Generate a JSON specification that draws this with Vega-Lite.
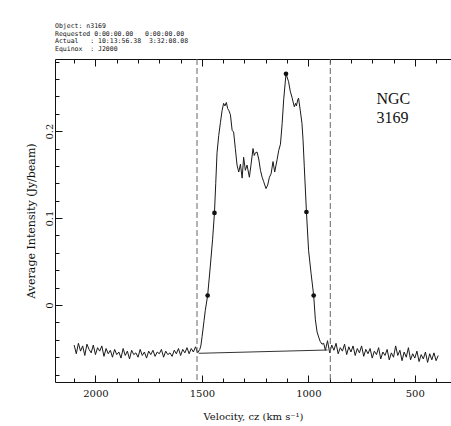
{
  "$schema": "https://vega.github.io/schema/vega-lite/v6.json",
  "width": 396,
  "height": 323,
  "autosize": {"type": "none"},
  "padding": {"left": 55, "top": 59, "right": 0, "bottom": 44},
  "background": "white",
  "title": {
    "text": ["Object: n3169", "Requested 0:00:00.00\u00a0\u00a0\u00a00:00:00.00", "Actual\u00a0\u00a0\u00a0: 10:13:56.38\u00a0\u00a03:32:08.08", "Equinox\u00a0\u00a0: J2000"],
    "anchor": "start",
    "frame": "group",
    "font": "DejaVu Sans Mono",
    "fontSize": 6.5,
    "fontWeight": "normal",
    "lineHeight": 7.7,
    "offset": 6,
    "color": "#111"
  },
  "datasets": {
    "spec": [
      {"v": 2100, "I": -0.046}, {"v": 2090, "I": -0.056}, {"v": 2080, "I": -0.044}, {"v": 2070, "I": -0.053},
      {"v": 2060, "I": -0.047}, {"v": 2050, "I": -0.058}, {"v": 2040, "I": -0.045}, {"v": 2030, "I": -0.051},
      {"v": 2020, "I": -0.055}, {"v": 2010, "I": -0.046}, {"v": 2000, "I": -0.057}, {"v": 1990, "I": -0.049},
      {"v": 1980, "I": -0.053}, {"v": 1970, "I": -0.047}, {"v": 1960, "I": -0.059}, {"v": 1950, "I": -0.050},
      {"v": 1940, "I": -0.056}, {"v": 1930, "I": -0.052}, {"v": 1920, "I": -0.060}, {"v": 1910, "I": -0.051},
      {"v": 1900, "I": -0.057}, {"v": 1890, "I": -0.054}, {"v": 1880, "I": -0.061}, {"v": 1870, "I": -0.050},
      {"v": 1860, "I": -0.058}, {"v": 1850, "I": -0.053}, {"v": 1840, "I": -0.062}, {"v": 1830, "I": -0.052},
      {"v": 1820, "I": -0.057}, {"v": 1810, "I": -0.055}, {"v": 1800, "I": -0.060}, {"v": 1790, "I": -0.051},
      {"v": 1780, "I": -0.058}, {"v": 1770, "I": -0.054}, {"v": 1760, "I": -0.061}, {"v": 1750, "I": -0.053},
      {"v": 1740, "I": -0.057}, {"v": 1730, "I": -0.052}, {"v": 1720, "I": -0.059}, {"v": 1710, "I": -0.054},
      {"v": 1700, "I": -0.056}, {"v": 1690, "I": -0.051}, {"v": 1680, "I": -0.060}, {"v": 1670, "I": -0.053},
      {"v": 1660, "I": -0.057}, {"v": 1650, "I": -0.055}, {"v": 1640, "I": -0.059}, {"v": 1630, "I": -0.052},
      {"v": 1620, "I": -0.056}, {"v": 1610, "I": -0.050}, {"v": 1600, "I": -0.058}, {"v": 1590, "I": -0.051},
      {"v": 1580, "I": -0.055}, {"v": 1570, "I": -0.049}, {"v": 1560, "I": -0.056}, {"v": 1550, "I": -0.050},
      {"v": 1540, "I": -0.054}, {"v": 1530, "I": -0.048}, {"v": 1520, "I": -0.055}, {"v": 1510, "I": -0.051},
      {"v": 1505, "I": -0.047}, {"v": 1499, "I": -0.036}, {"v": 1490, "I": -0.018}, {"v": 1484, "I": -0.006},
      {"v": 1473, "I": 0.011}, {"v": 1466, "I": 0.030}, {"v": 1460, "I": 0.046}, {"v": 1450, "I": 0.075},
      {"v": 1441, "I": 0.106}, {"v": 1435, "I": 0.140}, {"v": 1429, "I": 0.175}, {"v": 1421, "I": 0.195},
      {"v": 1413, "I": 0.210}, {"v": 1405, "I": 0.224}, {"v": 1398, "I": 0.232}, {"v": 1392, "I": 0.229},
      {"v": 1385, "I": 0.233}, {"v": 1379, "I": 0.226}, {"v": 1374, "I": 0.224}, {"v": 1366, "I": 0.219},
      {"v": 1358, "I": 0.201}, {"v": 1351, "I": 0.199}, {"v": 1343, "I": 0.180}, {"v": 1335, "I": 0.161},
      {"v": 1327, "I": 0.153}, {"v": 1319, "I": 0.162}, {"v": 1311, "I": 0.146}, {"v": 1304, "I": 0.170},
      {"v": 1296, "I": 0.155}, {"v": 1288, "I": 0.161}, {"v": 1277, "I": 0.147}, {"v": 1269, "I": 0.162},
      {"v": 1260, "I": 0.180}, {"v": 1254, "I": 0.172}, {"v": 1249, "I": 0.175}, {"v": 1241, "I": 0.176},
      {"v": 1233, "I": 0.168}, {"v": 1225, "I": 0.155}, {"v": 1217, "I": 0.147}, {"v": 1210, "I": 0.142},
      {"v": 1199, "I": 0.134}, {"v": 1191, "I": 0.138}, {"v": 1183, "I": 0.147}, {"v": 1175, "I": 0.151},
      {"v": 1166, "I": 0.165}, {"v": 1158, "I": 0.153}, {"v": 1147, "I": 0.167}, {"v": 1139, "I": 0.178},
      {"v": 1131, "I": 0.185}, {"v": 1123, "I": 0.209}, {"v": 1116, "I": 0.236}, {"v": 1105, "I": 0.266},
      {"v": 1093, "I": 0.257}, {"v": 1085, "I": 0.246}, {"v": 1077, "I": 0.239}, {"v": 1066, "I": 0.228},
      {"v": 1060, "I": 0.232}, {"v": 1056, "I": 0.229}, {"v": 1050, "I": 0.236}, {"v": 1046, "I": 0.238},
      {"v": 1038, "I": 0.224}, {"v": 1030, "I": 0.209}, {"v": 1025, "I": 0.190}, {"v": 1019, "I": 0.159},
      {"v": 1009, "I": 0.107}, {"v": 999, "I": 0.063}, {"v": 987, "I": 0.036}, {"v": 975, "I": 0.011},
      {"v": 967, "I": -0.017}, {"v": 959, "I": -0.031}, {"v": 950, "I": -0.038}, {"v": 944, "I": -0.042},
      {"v": 936, "I": -0.045}, {"v": 928, "I": -0.044},
      {"v": 920, "I": -0.052}, {"v": 910, "I": -0.041}, {"v": 900, "I": -0.055}, {"v": 890, "I": -0.046},
      {"v": 880, "I": -0.052}, {"v": 870, "I": -0.044}, {"v": 860, "I": -0.056}, {"v": 850, "I": -0.049},
      {"v": 840, "I": -0.053}, {"v": 830, "I": -0.045}, {"v": 820, "I": -0.057}, {"v": 810, "I": -0.048},
      {"v": 800, "I": -0.054}, {"v": 790, "I": -0.047}, {"v": 780, "I": -0.058}, {"v": 770, "I": -0.050},
      {"v": 760, "I": -0.055}, {"v": 750, "I": -0.047}, {"v": 740, "I": -0.059}, {"v": 730, "I": -0.051},
      {"v": 720, "I": -0.056}, {"v": 710, "I": -0.050}, {"v": 700, "I": -0.061}, {"v": 690, "I": -0.053},
      {"v": 680, "I": -0.057}, {"v": 670, "I": -0.049}, {"v": 660, "I": -0.062}, {"v": 650, "I": -0.054},
      {"v": 640, "I": -0.058}, {"v": 630, "I": -0.051}, {"v": 620, "I": -0.063}, {"v": 610, "I": -0.055},
      {"v": 600, "I": -0.060}, {"v": 590, "I": -0.047}, {"v": 580, "I": -0.058}, {"v": 570, "I": -0.052},
      {"v": 560, "I": -0.064}, {"v": 550, "I": -0.054}, {"v": 540, "I": -0.060}, {"v": 530, "I": -0.049},
      {"v": 520, "I": -0.063}, {"v": 510, "I": -0.056}, {"v": 500, "I": -0.061}, {"v": 490, "I": -0.053},
      {"v": 480, "I": -0.065}, {"v": 470, "I": -0.057}, {"v": 460, "I": -0.062}, {"v": 450, "I": -0.054},
      {"v": 440, "I": -0.066}, {"v": 430, "I": -0.056}, {"v": 420, "I": -0.063}, {"v": 410, "I": -0.055},
      {"v": 400, "I": -0.064}, {"v": 390, "I": -0.058}
    ],
    "edges": [{"v": 1523}, {"v": 897}],
    "fit": [{"v": 1515, "I": -0.0555}, {"v": 910, "I": -0.0517}],
    "dots": [
      {"v": 1473, "I": 0.011}, {"v": 1441, "I": 0.106}, {"v": 1105, "I": 0.266},
      {"v": 1009, "I": 0.107}, {"v": 975, "I": 0.011}
    ],
    "label": [{"name": "NGC 3169"}]
  },
  "resolve": {"axis": {"x": "independent", "y": "independent"}},
  "layer": [
    {
      "data": {"name": "spec"},
      "mark": {"type": "line", "color": "#1a1a1a", "strokeWidth": 1},
      "encoding": {
        "x": {
          "field": "v", "type": "quantitative",
          "scale": {"domain": [330, 2190], "reverse": true, "nice": false, "zero": false},
          "axis": {
            "orient": "bottom",
            "title": "Velocity, cz (km s⁻¹)",
            "values": [400, 500, 600, 700, 800, 900, 1000, 1100, 1200, 1300, 1400, 1500, 1600, 1700, 1800, 1900, 2000, 2100],
            "labelExpr": "datum.value % 500 === 0 ? format(datum.value, 'd') : ''",
            "tickSize": {"condition": {"test": "datum.value % 500 === 0", "value": -7}, "value": -4},
            "labelFontSize": 10,
            "titleFontSize": 10,
            "labelPadding": 13,
            "titlePadding": 13
          }
        },
        "y": {
          "field": "I", "type": "quantitative",
          "scale": {"domain": [-0.0885, 0.283], "nice": false, "zero": false},
          "axis": {
            "orient": "left",
            "title": "Average Intensity (Jy/beam)",
            "values": [-0.08, -0.06, -0.04, -0.02, 0, 0.02, 0.04, 0.06, 0.08, 0.1, 0.12, 0.14, 0.16, 0.18, 0.2, 0.22, 0.24, 0.26, 0.28],
            "labelExpr": "(datum.value === 0 || datum.value === 0.1 || datum.value === 0.2) ? format(datum.value, '.1~f') : ''",
            "tickSize": {"condition": {"test": "datum.value === 0 || datum.value === 0.1 || datum.value === 0.2", "value": -7}, "value": -4},
            "labelAngle": -90,
            "labelAlign": "center",
            "labelBaseline": "bottom",
            "labelFontSize": 10,
            "titleFontSize": 11,
            "labelPadding": 8,
            "titlePadding": 8
          }
        }
      }
    },
    {
      "data": {"name": "edges"},
      "mark": {"type": "rule", "color": "#666", "strokeWidth": 1, "strokeDash": [6, 3]},
      "encoding": {
        "x": {
          "field": "v", "type": "quantitative",
          "scale": {"domain": [330, 2190], "reverse": true, "nice": false, "zero": false},
          "axis": {
            "orient": "top",
            "title": null,
            "labels": false,
            "values": [400, 500, 600, 700, 800, 900, 1000, 1100, 1200, 1300, 1400, 1500, 1600, 1700, 1800, 1900, 2000, 2100],
            "tickSize": {"condition": {"test": "datum.value % 500 === 0", "value": -7}, "value": -4}
          }
        }
      }
    },
    {
      "data": {"name": "fit"},
      "mark": {"type": "line", "color": "#333", "strokeWidth": 1},
      "encoding": {
        "x": {"field": "v", "type": "quantitative", "scale": {"domain": [330, 2190], "reverse": true, "nice": false, "zero": false}, "axis": null},
        "y": {"field": "I", "type": "quantitative", "scale": {"domain": [-0.0885, 0.283], "nice": false, "zero": false}, "axis": null}
      }
    },
    {
      "data": {"name": "dots"},
      "mark": {"type": "point", "filled": true, "color": "#111", "size": 22, "opacity": 1},
      "encoding": {
        "x": {"field": "v", "type": "quantitative", "scale": {"domain": [330, 2190], "reverse": true, "nice": false, "zero": false}, "axis": null},
        "y": {"field": "I", "type": "quantitative", "scale": {"domain": [-0.0885, 0.283], "nice": false, "zero": false}, "axis": null}
      }
    },
    {
      "data": {"name": "label"},
      "mark": {"type": "text", "text": ["NGC", "3169"], "font": "Liberation Serif", "fontSize": 16, "lineHeight": 19, "align": "left", "baseline": "alphabetic", "color": "#111"},
      "encoding": {
        "x": {"datum": 680, "type": "quantitative", "axis": null},
        "y": {"datum": 0.231, "type": "quantitative", "axis": null}
      }
    }
  ],
  "config": {
    "view": {"stroke": null},
    "axis": {
      "grid": false,
      "domainColor": "#111",
      "domainWidth": 1,
      "tickColor": "#111",
      "tickWidth": 1,
      "labelFont": "DejaVu Serif",
      "labelColor": "#111",
      "titleFont": "DejaVu Serif",
      "titleFontWeight": "normal",
      "titleColor": "#111"
    }
  }
}
